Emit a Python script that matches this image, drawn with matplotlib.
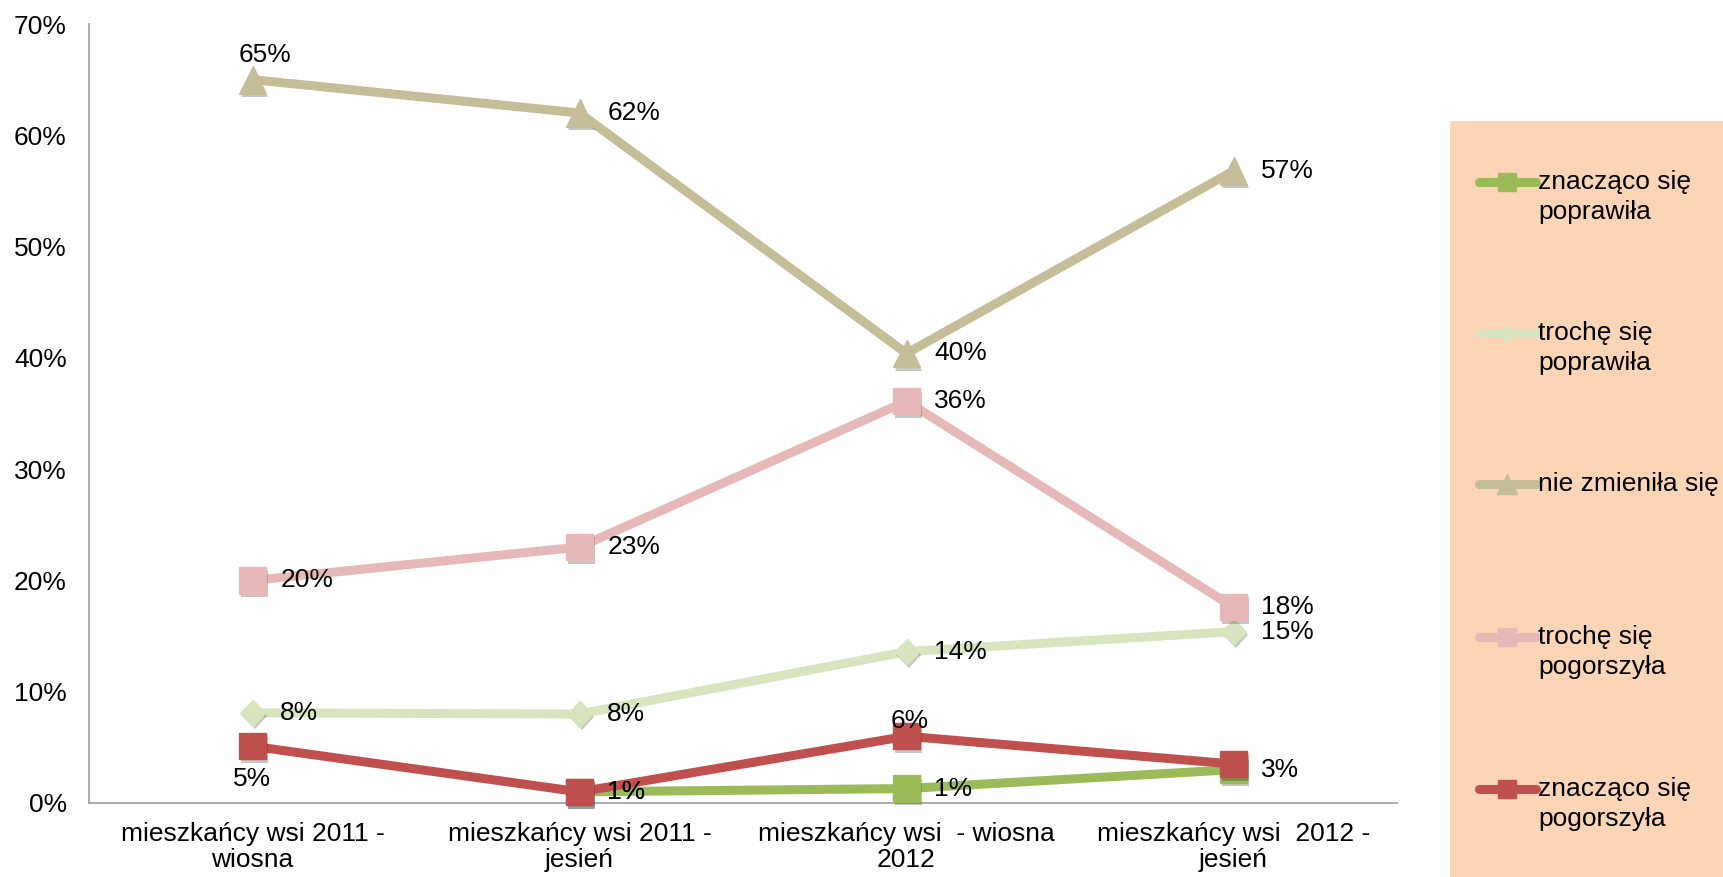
import numpy as np
import matplotlib
matplotlib.use("Agg")
import matplotlib.pyplot as plt
import matplotlib.patheffects as pe
from matplotlib.lines import Line2D
from matplotlib.patches import Rectangle

plt.rcParams['font.family'] = ['Liberation Sans', 'DejaVu Sans']

categories = ["mieszkańcy wsi 2011 -\nwiosna",
              "mieszkańcy wsi 2011 -\njesień",
              "mieszkańcy wsi  - wiosna\n2012",
              "mieszkańcy wsi  2012 -\njesień"]

series_names = ["znacząco się\npoprawiła",
                "trochę się\npoprawiła",
                "nie zmieniła się",
                "trochę się\npogorszyła",
                "znacząco się\npogorszyła"]

znaczaco_poprawila = [np.nan, 1.0, 1.3, 3.0]
troche_poprawila = [8.1, 8.0, 13.6, 15.4]
nie_zmienila = [65.0, 62.0, 40.4, 56.8]
troche_pogorszyla = [20.0, 23.0, 36.1, 17.6]
znaczaco_pogorszyla = [5.1, 1.0, 6.0, 3.5]

# label placement per point: 'r' right, 'a' above, 't' tight above, 'b' below, None = no label
lab_znaczaco_poprawila = [None, 'r', 'r', 'r']
lab_troche_poprawila = ['r', 'r', 'r', 'r']
lab_nie_zmienila = ['a', 'r', 'r', 'r']
lab_troche_pogorszyla = ['r', 'r', 'r', 'r']
lab_znaczaco_pogorszyla = ['b', 'r', 't', None]

values = [znaczaco_poprawila, troche_poprawila, nie_zmienila,
          troche_pogorszyla, znaczaco_pogorszyla]
label_pos = [lab_znaczaco_poprawila, lab_troche_poprawila, lab_nie_zmienila,
             lab_troche_pogorszyla, lab_znaczaco_pogorszyla]
colors = ["#9BBB59", "#D7E4BD", "#C4BD97", "#E6B9B8", "#C0504D"]
markers = ["s", "D", "^", "s", "s"]
msizes = [19, 13, 20, 19, 19]

offsets = {'r': ((20, 0), 'left', 'center'),
           'a': ((9, 9), 'center', 'bottom'),
           't': ((2, 2), 'center', 'bottom'),
           'b': ((0, -15), 'center', 'top')}

W, H = 1723, 877
fig = plt.figure(figsize=(W / 100, H / 100), dpi=100)
ax = fig.add_axes([89 / W, (H - 803) / H, (1397 - 89) / W, (803 - 24) / H])

x = np.arange(len(categories))
FS = 19
shadow = [pe.SimplePatchShadow(offset=(1.5, -2.5), shadow_rgbFace='black', alpha=0.22),
          pe.Normal()]
z = 3
for vals, col, mk, ms, lp in zip(values, colors, markers, msizes, label_pos):
    v = np.array(vals, dtype=float)
    ax.plot(x, v, color=col, lw=6.5, solid_capstyle='round',
            solid_joinstyle='round', clip_on=False, zorder=z)
    ax.plot(x, v, linestyle='none', marker=mk, ms=ms, mec=col, mfc=col,
            clip_on=False, zorder=z + 0.5, path_effects=shadow)
    z += 1
    for xi, vi, p in zip(x, v, lp):
        if p is None or np.isnan(vi):
            continue
        off, ha, va = offsets[p]
        ax.annotate(f"{vi:.0f}%", (xi, vi), xytext=off, textcoords='offset points',
                    ha=ha, va=va, fontsize=FS, zorder=20)

ax.set_xlim(-0.5, len(categories) - 0.5)
ax.set_ylim(0, 70)
ax.set_yticks(np.arange(0, 71, 10))
ax.set_yticklabels([f"{t}%" for t in range(0, 71, 10)], fontsize=FS)
ax.set_xticks(x)
ax.set_xticklabels(categories, fontsize=FS, linespacing=1.1)
ax.tick_params(axis='both', length=0)
ax.tick_params(axis='y', pad=16)
ax.tick_params(axis='x', pad=14)
for s in ['top', 'right']:
    ax.spines[s].set_visible(False)
for s in ['left', 'bottom']:
    ax.spines[s].set_color('#A6A6A6')
    ax.spines[s].set_linewidth(1.3)

# legend panel
fig.patches.append(Rectangle((1450 / W, 0), (W - 1450) / W, (H - 121) / H,
                             transform=fig.transFigure, facecolor="#FBD5B5",
                             edgecolor='none', zorder=0))
ys = [182, 333, 484, 637, 789]
for name, col, mk, ms, yy in zip(series_names, colors, markers, msizes, ys):
    yf = (H - yy) / H
    fig.add_artist(Line2D([1479 / W, 1536 / W], [yf, yf], transform=fig.transFigure,
                          color=col, lw=6.5, solid_capstyle='round'))
    fig.add_artist(Line2D([1507 / W], [yf], transform=fig.transFigure,
                          color=col, marker=mk, ms=ms * 0.7, mec=col, mfc=col,
                          linestyle='none'))
    for i, line in enumerate(name.split("\n")):
        fig.text(1538 / W, (H - yy - i * 30) / H, line, fontsize=FS,
                 ha='left', va='center')

fig.savefig("out.png", dpi=100)
